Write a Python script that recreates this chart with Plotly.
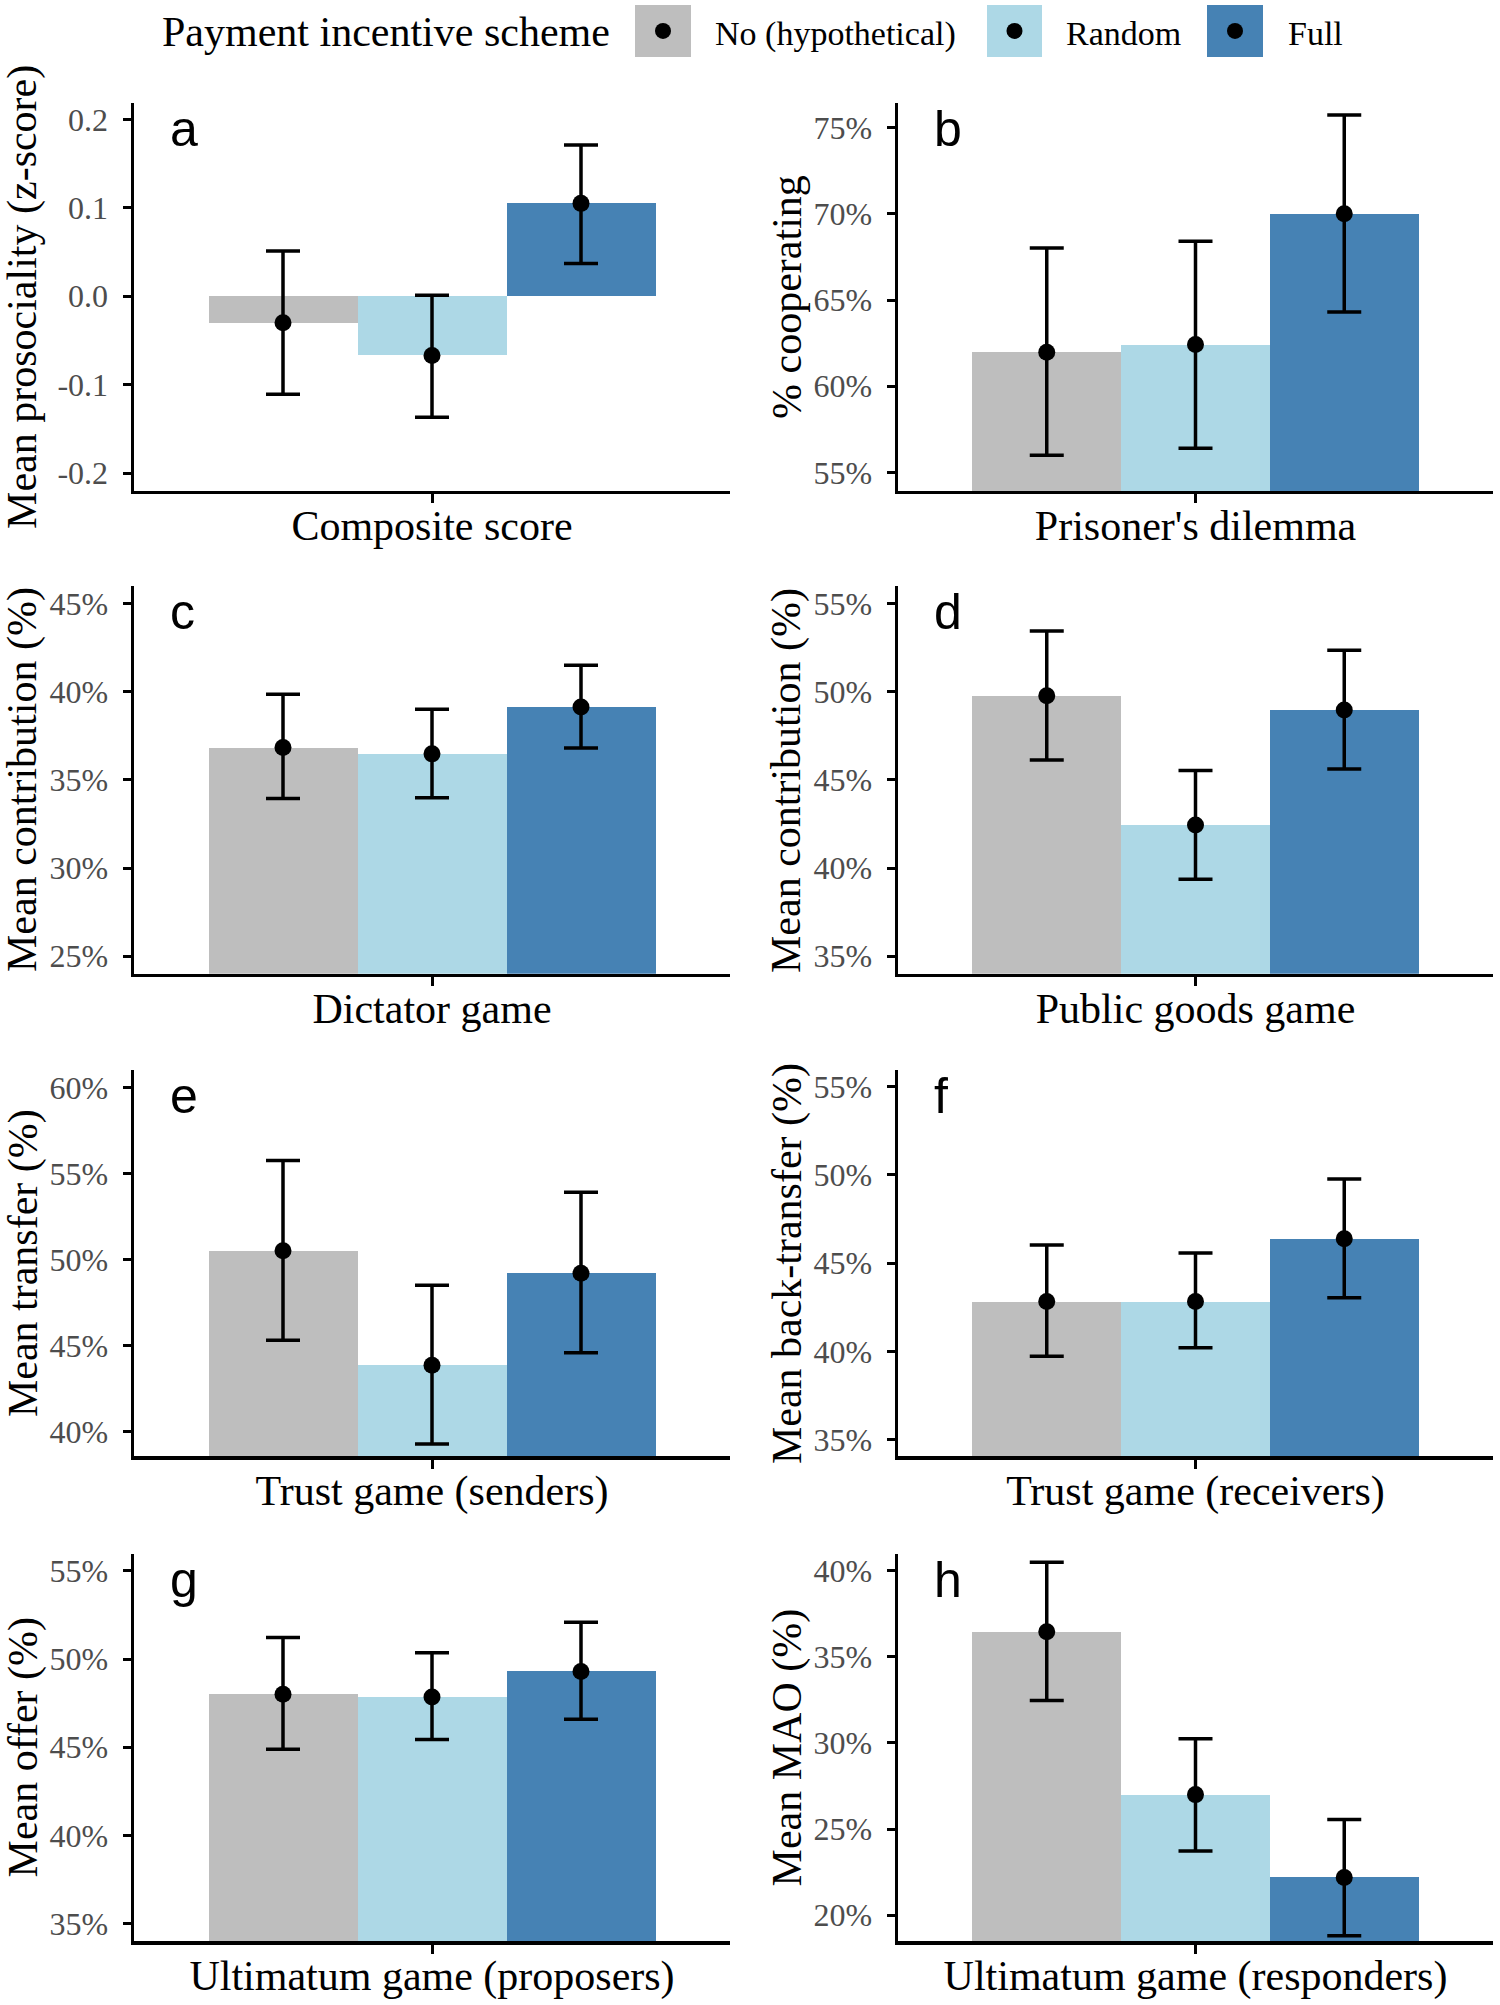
import plotly.graph_objects as go

# ---------------- data ----------------
categories = ["Composite score", "Prisoner's dilemma", "Dictator game", "Public goods game",
              "Trust game (senders)", "Trust game (receivers)",
              "Ultimatum game (proposers)", "Ultimatum game (responders)"]
y_titles = ["Mean prosociality (z-score)", "% cooperating", "Mean contribution (%)",
            "Mean contribution (%)", "Mean transfer (%)", "Mean back-transfer (%)",
            "Mean offer (%)", "Mean MAO (%)"]
panel_letters = ["a", "b", "c", "d", "e", "f", "g", "h"]
schemes = ["No (hypothetical)", "Random", "Full"]
legend_title = "Payment incentive scheme"

mean_no = [-0.030, 61.97, 36.83, 49.77, 50.50, 42.83, 48.00, 36.47]
mean_random = [-0.067, 62.42, 36.47, 42.44, 43.85, 42.83, 47.85, 27.00]
mean_full = [0.105, 70.00, 39.13, 48.96, 49.20, 46.39, 49.30, 22.19]

ci_low_no = [-0.111, 56.00, 33.94, 46.12, 45.30, 39.74, 44.89, 32.47]
ci_high_no = [0.051, 68.02, 39.85, 53.43, 55.74, 46.03, 51.23, 40.50]
ci_low_random = [-0.137, 56.41, 33.98, 39.36, 39.27, 40.21, 45.43, 23.72]
ci_high_random = [0.001, 68.41, 39.00, 45.53, 48.50, 45.58, 50.36, 30.25]
ci_low_full = [0.037, 64.31, 36.81, 45.61, 44.58, 43.05, 46.58, 18.80]
ci_high_full = [0.171, 75.73, 41.50, 52.34, 53.90, 49.77, 52.09, 25.56]

y_min = [-0.2203, 53.93, 24.0, 34.0, 38.57, 34.08, 34.0, 18.49]
y_max = [0.2187, 76.43, 45.98, 55.98, 61.0, 55.94, 55.98, 41.0]

tick_values = [
    [-0.2, -0.1, 0.0, 0.1, 0.2],
    [55, 60, 65, 70, 75],
    [25, 30, 35, 40, 45],
    [35, 40, 45, 50, 55],
    [40, 45, 50, 55, 60],
    [35, 40, 45, 50, 55],
    [35, 40, 45, 50, 55],
    [20, 25, 30, 35, 40],
]
tick_labels = [
    ["-0.2", "-0.1", "0.0", "0.1", "0.2"],
    ["55%", "60%", "65%", "70%", "75%"],
    ["25%", "30%", "35%", "40%", "45%"],
    ["35%", "40%", "45%", "50%", "55%"],
    ["40%", "45%", "50%", "55%", "60%"],
    ["35%", "40%", "45%", "50%", "55%"],
    ["35%", "40%", "45%", "50%", "55%"],
    ["20%", "25%", "30%", "35%", "40%"],
]

# ---------------- styling / layout ----------------
W, H = 1500, 2005
colors = ["#BEBEBE", "#ADD8E6", "#4682B4"]
x_pos = [-1, 0, 1]
SERIF = "Liberation Serif"
SANS = "Liberation Sans"

col_left = [134, 898]
col_right = [730, 1493]
row_top = [102, 586, 1070.7, 1555]
row_bot = [490.7, 974.3, 1457.3, 1943]


def px(x):
    return x / W


def py(y):
    return 1 - y / H


means = [mean_no, mean_random, mean_full]
lows = [ci_low_no, ci_low_random, ci_low_full]
highs = [ci_high_no, ci_high_random, ci_high_full]

fig = go.Figure()
layout = {}
annotations = []
shapes = []

for p in range(8):
    r, c = p // 2, p % 2
    idx = "" if p == 0 else str(p + 1)
    xa, ya = "x" + idx, "y" + idx
    for j in range(3):
        fig.add_trace(go.Bar(
            x=[x_pos[j]], y=[means[j][p]], width=1,
            marker=dict(color=colors[j], line=dict(width=0)),
            xaxis=xa, yaxis=ya, showlegend=False, hoverinfo="skip"))
    for j in range(3):
        m = means[j][p]
        fig.add_trace(go.Scatter(
            x=[x_pos[j]], y=[m], mode="markers",
            marker=dict(color="black", size=17),
            error_y=dict(type="data", symmetric=False,
                         array=[highs[j][p] - m], arrayminus=[m - lows[j][p]],
                         color="black", thickness=3.5, width=17),
            xaxis=xa, yaxis=ya, showlegend=False, hoverinfo="skip"))

    layout["xaxis" + idx] = dict(
        domain=[px(col_left[c]), px(col_right[c])], anchor=ya,
        range=[-2, 2], showgrid=False, zeroline=False,
        showline=True, linecolor="black", linewidth=3.5,
        ticks="outside", ticklen=9, tickwidth=3, tickcolor="black",
        tickvals=[0], ticktext=[categories[p]],
        tickfont=dict(family=SERIF, size=42, color="black"),
        ticklabelstandoff=-14,
        fixedrange=True)
    layout["yaxis" + idx] = dict(
        domain=[py(row_bot[r]), py(row_top[r])], anchor=xa,
        range=[y_min[p], y_max[p]], showgrid=False, zeroline=False,
        showline=True, linecolor="black", linewidth=3.5,
        ticks="outside", ticklen=8, tickwidth=3, tickcolor="black",
        tickvals=tick_values[p], ticktext=tick_labels[p],
        tickfont=dict(family=SERIF, size=32, color="#4D4D4D"),
        ticklabelstandoff=8,
        fixedrange=True)

    # y-axis title
    annotations.append(dict(
        text=y_titles[p], xref="paper", yref="paper",
        x=px(col_left[c] - 111), y=py((row_top[r] + row_bot[r]) / 2),
        xanchor="center", yanchor="middle", textangle=-90, showarrow=False,
        font=dict(family=SERIF, size=42, color="black")))
    # panel letter
    annotations.append(dict(
        text=panel_letters[p], xref="paper", yref="paper",
        x=px(col_left[c] + 34), y=py(row_top[r] + 26),
        xanchor="left", yanchor="middle", showarrow=False,
        font=dict(family=SANS, size=50, color="black")))

# ---------------- legend (drawn manually, ggplot style) ----------------
legend_key_x = [(635, 691), (987, 1042), (1207, 1263)]
legend_label_x = [713, 1064, 1286]
key_top, key_bot = 4, 56
key_mid = (key_top + key_bot) / 2

annotations.append(dict(
    text=legend_title, xref="paper", yref="paper", x=px(160), y=py(31),
    xanchor="left", yanchor="middle", showarrow=False,
    font=dict(family=SERIF, size=42, color="black")))
for j in range(3):
    x0, x1 = legend_key_x[j]
    shapes.append(dict(type="rect", xref="paper", yref="paper",
                       x0=px(x0), x1=px(x1), y0=py(key_bot), y1=py(key_top),
                       fillcolor=colors[j], line=dict(width=0)))
    cx = (x0 + x1) / 2
    shapes.append(dict(type="circle", xref="paper", yref="paper",
                       x0=px(cx - 8), x1=px(cx + 8),
                       y0=py(key_mid + 8), y1=py(key_mid - 8),
                       fillcolor="black", line=dict(width=0)))
    annotations.append(dict(
        text=schemes[j], xref="paper", yref="paper", x=px(legend_label_x[j]), y=py(33),
        xanchor="left", yanchor="middle", showarrow=False,
        font=dict(family=SERIF, size=34, color="black")))

fig.update_layout(
    width=W, height=H, autosize=False,
    margin=dict(l=0, r=0, t=0, b=0, pad=0),
    paper_bgcolor="white", plot_bgcolor="white",
    barmode="overlay", bargap=0,
    showlegend=False,
    annotations=annotations, shapes=shapes,
    **layout)

fig.write_html("out.html",
               config={"displayModeBar": False, "staticPlot": True},
               post_script="document.body.style.margin='0px';"
                           "document.body.style.overflow='hidden';")
